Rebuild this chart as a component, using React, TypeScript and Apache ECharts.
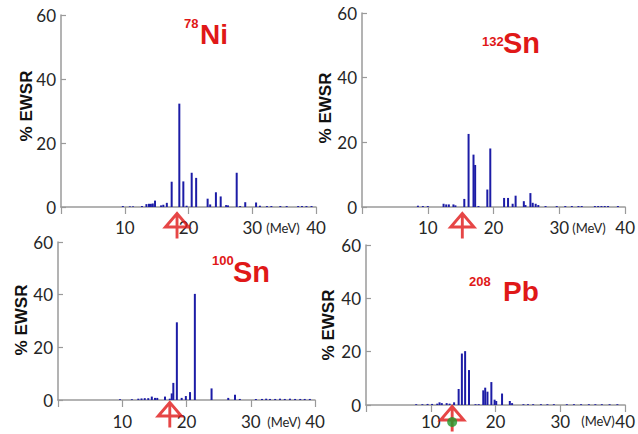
import React, { useEffect, useRef } from "react";
import * as echarts from "echarts";

// ---- data (energies in MeV, strength in % EWSR) ----
const ni78Energy = [9.7, 10.8, 11.3, 12.7, 13.4, 13.8, 14.1, 14.4, 14.75, 15.7, 16.05, 16.6, 17.36, 18.56, 19.19, 19.7, 20.5, 21.2, 23.0, 23.4, 24.3, 25.05, 25.9, 26.2, 27.56, 28.1, 28.9, 30.6, 31.2, 32.3, 33.0, 34.4, 35.4, 37.2, 37.8, 38.5, 39.3];
const ni78Ewsr = [0.3, 0.2, 0.2, 0.3, 0.9, 1.0, 1.0, 1.1, 2.0, 0.5, 0.7, 1.3, 7.9, 32.3, 8.0, 0.4, 10.7, 9.1, 2.6, 0.8, 4.6, 3.3, 0.6, 0.5, 10.7, 0.3, 1.5, 1.4, 0.4, 0.3, 0.3, 0.3, 0.3, 0.3, 0.3, 0.3, 0.3];

const sn132Energy = [8.5, 9.25, 10.0, 12.4, 12.8, 13.2, 13.9, 14.2, 15.55, 16.2, 16.95, 17.2, 17.7, 19.05, 19.5, 21.6, 22.2, 22.9, 23.35, 24.6, 24.85, 25.6, 25.95, 26.4, 26.8, 27.9, 29.6, 30.9, 31.9, 32.9, 33.4, 35.4, 35.9, 36.4, 36.9, 37.4, 38.9];
const sn132Ewsr = [0.4, 0.3, 0.3, 1.0, 0.8, 0.8, 0.8, 0.5, 2.5, 22.6, 16.2, 13.0, 0.3, 5.4, 18.1, 2.8, 2.8, 1.0, 3.5, 1.8, 0.6, 4.3, 1.3, 1.0, 0.6, 0.3, 0.3, 0.3, 0.3, 0.3, 0.3, 0.3, 0.3, 0.3, 0.3, 0.3, 0.3];

const sn100Energy = [9.65, 11.5, 12.5, 13.0, 13.5, 14.05, 14.6, 15.1, 15.45, 16.65, 17.4, 17.7, 17.95, 18.5, 19.25, 19.9, 20.55, 21.3, 23.9, 26.5, 27.55, 28.3, 30.8, 31.75, 32.4, 33.0, 33.8, 34.55, 35.3, 36.1, 36.9, 37.7, 38.4, 39.2];
const sn100Ewsr = [0.3, 0.3, 0.5, 0.6, 0.7, 0.7, 1.3, 0.8, 0.8, 1.3, 0.5, 2.5, 6.5, 29.5, 0.8, 1.5, 3.0, 40.3, 4.4, 0.8, 2.0, 0.4, 0.4, 0.4, 0.5, 0.4, 0.4, 0.5, 0.4, 0.5, 0.4, 0.4, 0.4, 0.4];

const pb208Energy = [7.75, 8.7, 9.5, 10.2, 11.0, 11.35, 11.7, 12.45, 12.9, 13.6, 14.3, 14.8, 15.3, 15.9, 16.9, 17.4, 18.1, 18.4, 18.75, 19.35, 19.85, 20.1, 21.0, 22.2, 22.55, 24.3, 25.0, 25.8, 27.0, 28.0, 29.0, 31.0, 32.1, 33.2, 34.4, 35.4, 36.4, 37.6, 38.8];
const pb208Ewsr = [0.3, 0.3, 0.4, 0.4, 0.5, 1.0, 0.7, 0.7, 0.5, 1.0, 6.0, 19.3, 20.2, 13.1, 0.3, 0.3, 5.5, 6.5, 5.0, 8.6, 2.0, 1.5, 4.3, 1.5, 0.7, 0.3, 0.3, 0.3, 0.3, 0.3, 0.3, 0.3, 0.3, 0.3, 0.3, 0.3, 0.3, 0.3, 0.3];

// centroid arrows (MeV)
const arrowEnergy = [18.2, 15.25, 17.4, 13.3];
const greenDotEnergy = 13.3; // only for 208Pb

const nuclideMass = ["78", "132", "100", "208"];
const nuclideSymbol = ["Ni", "Sn", "Sn", "Pb"];
const xTicks = [0, 10, 20, 30, 40];
const yTicks = [0, 20, 40, 60];

const energies = [ni78Energy, sn132Energy, sn100Energy, pb208Energy];
const strengths = [ni78Ewsr, sn132Ewsr, sn100Ewsr, pb208Ewsr];

// ---- layout ----
const grids = [
  { left: 61, top: 15, width: 255, height: 192 },
  { left: 362, top: 13, width: 265, height: 194 },
  { left: 58, top: 242, width: 257, height: 158 },
  { left: 366, top: 245, width: 270, height: 160 },
];
const xLabelMargin = [12, 12, 13, 8];
const arrowOffset = [19, 19, 15, 14];
const ylabelPos = [
  [26, 106],
  [325, 108],
  [21, 320],
  [328, 325],
];
const titlePos = [
  { sx: 184, sy: 23, mx: 200, my: 34, ms: 28 },
  { sx: 482, sy: 41, mx: 503, my: 43, ms: 29 },
  { sx: 212, sy: 260, mx: 233, my: 272, ms: 29 },
  { sx: 469, sy: 281, mx: 503, my: 291, ms: 28 },
];
const mevPos = [
  [283, 228],
  [589, 228],
  [284, 422],
  [598, 421],
];

const RED = "#e01818";
const BLUE = "#1c1ca6";
const AXIS = "#9a9a9a";
const TXT = "#262626";
const FONT = "Lato, 'DejaVu Sans', sans-serif";
const ARROW = "path://M11,0 L22,13 L0,13 Z M11,0 L11,24";

export default function App() {
  const ref = useRef<HTMLDivElement>(null);
  useEffect(() => {
    if (!ref.current) return;
    const chart = echarts.init(ref.current, undefined, { renderer: "svg" });

    const xAxis = grids.map((_, i) => ({
      gridIndex: i,
      type: "value",
      min: xTicks[0],
      max: xTicks[xTicks.length - 1],
      interval: 10,
      axisLine: { show: true, onZero: true, lineStyle: { color: AXIS, width: 1.5 } },
      axisTick: { show: true, length: 7, lineStyle: { color: AXIS, width: 1.2 } },
      splitLine: { show: false },
      axisLabel: {
        formatter: (v: number) => (v === 0 ? "" : String(v)),
        fontSize: 17,
        color: TXT,
        fontFamily: FONT,
        margin: xLabelMargin[i],
      },
    }));
    const yAxis = grids.map((_, i) => ({
      gridIndex: i,
      type: "value",
      min: yTicks[0],
      max: yTicks[yTicks.length - 1],
      interval: 20,
      axisLine: { show: true, lineStyle: { color: AXIS, width: 1.5 } },
      axisTick: { show: true, inside: true, length: 5, lineStyle: { color: AXIS, width: 1.2 } },
      splitLine: { show: false },
      axisLabel: { fontSize: 17, color: TXT, fontFamily: FONT, margin: 5 },
    }));

    const series: any[] = [];
    energies.forEach((en, i) => {
      series.push({
        type: "bar",
        xAxisIndex: i,
        yAxisIndex: i,
        barWidth: 2,
        itemStyle: { color: BLUE },
        data: en.map((e, k) => [e, strengths[i][k]]),
      });
      series.push({
        type: "scatter",
        xAxisIndex: i,
        yAxisIndex: i,
        clip: false,
        symbol: ARROW,
        symbolSize: [23, 25],
        symbolOffset: [0, arrowOffset[i]],
        itemStyle: { color: "rgba(0,0,0,0)", borderColor: RED, borderWidth: 3 },
        z: 5,
        data: [[arrowEnergy[i], 0]],
      });
    });
    series.push({
      type: "scatter",
      xAxisIndex: 3,
      yAxisIndex: 3,
      clip: false,
      symbol: "circle",
      symbolSize: 10,
      symbolOffset: [0, 17],
      itemStyle: { color: "#1f9a2a" },
      z: 6,
      data: [[greenDotEnergy, 0]],
    });

    const graphic: any[] = [];
    ylabelPos.forEach(([x, y]) => {
      graphic.push({
        type: "text",
        x,
        y,
        rotation: Math.PI / 2,
        style: {
          text: "% EWSR",
          fontSize: 17,
          fontWeight: "bold",
          fontFamily: "'Liberation Sans', Arial, sans-serif",
          fill: "#111",
          align: "center",
          verticalAlign: "middle",
        },
      });
    });
    titlePos.forEach((p, i) => {
      graphic.push({
        type: "text",
        x: p.sx,
        y: p.sy,
        style: {
          text: nuclideMass[i],
          fontSize: 13,
          fontWeight: "bold",
          fontFamily: "'Liberation Sans', Arial, sans-serif",
          fill: RED,
          align: "left",
          verticalAlign: "middle",
        },
      });
      graphic.push({
        type: "text",
        x: p.mx,
        y: p.my,
        style: {
          text: nuclideSymbol[i],
          fontSize: p.ms,
          fontWeight: "bold",
          fontFamily: "'Liberation Sans', Arial, sans-serif",
          fill: RED,
          align: "left",
          verticalAlign: "middle",
        },
      });
    });
    mevPos.forEach(([x, y]) => {
      graphic.push({
        type: "text",
        x,
        y,
        style: {
          text: "(MeV)",
          fontSize: 13,
          fontFamily: FONT,
          fill: TXT,
          align: "center",
          verticalAlign: "middle",
        },
      });
    });

    chart.setOption({
      animation: false,
      backgroundColor: "#ffffff",
      grid: grids.map((g) => ({ ...g, containLabel: false })),
      xAxis,
      yAxis,
      series,
      graphic,
    });
    return () => chart.dispose();
  }, []);
  return (
    <div
      ref={ref}
      style={{ position: "fixed", left: 0, top: 0, width: 638, height: 434, background: "#fff" }}
    />
  );
}
